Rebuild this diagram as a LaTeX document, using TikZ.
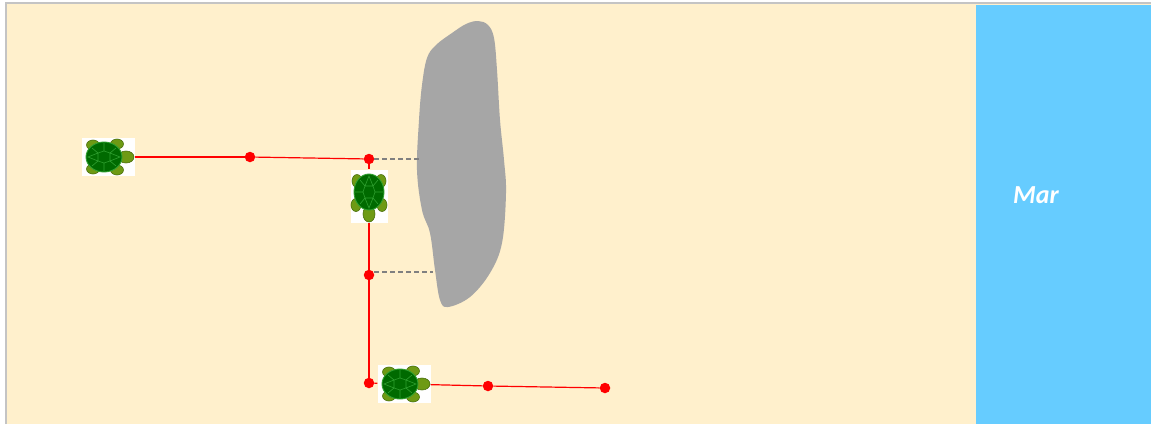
\documentclass[tikz,border=0pt]{standalone}
\usepackage{fontspec}
\setsansfont{Carlito}
\usetikzlibrary{positioning}

\definecolor{sand}{HTML}{FFF0CC}
\definecolor{sea}{HTML}{66CCFF}
\definecolor{rock}{HTML}{A6A6A6}
\definecolor{frame}{HTML}{C4C4C4}
\definecolor{shell}{HTML}{006A00}
\definecolor{plate}{HTML}{30A030}
\definecolor{limb}{HTML}{6E9A14}
\definecolor{limbedge}{HTML}{4A6E0C}

% a small turtle, head pointing along +x
\tikzset{
  turtle/.pic={
    \foreach \lx/\ly in {-15/-12,-15/12,9/-13,9/13}
      \draw[limbedge, fill=limb, line width=0.6pt]
        (\lx,\ly) ellipse [x radius=6.5, y radius=5];
    \draw[limbedge, fill=limb, line width=0.6pt] (18,0) ellipse [x radius=8, y radius=6];
    \draw[plate, fill=shell, line width=0.9pt] (-4,0) ellipse [x radius=18, y radius=15];
    % shell plates
    \draw[plate, line width=0.6pt]
      (-10,-4) -- (-4,-6) -- (2,-4) -- (2,4) -- (-4,6) -- (-10,4) -- cycle
      (-10,-4) -- (-16,-9) (2,-4) -- (8,-9) (-4,-6) -- (-4,-14)
      (-10,4) -- (-16,9) (2,4) -- (8,9) (-4,6) -- (-4,14)
      (-10,-4) -- (-20,0) -- (-10,4) (2,-4) -- (12,0) -- (2,4);
  }
}

\begin{document}
\begin{tikzpicture}[
  x=1pt,
  y=-1pt,
  turtle box/.style={
    fill=white,
    inner sep=0pt,
    minimum width=53pt,
    minimum height=38pt
  },
  dot/.style={
    circle,
    fill=red,
    inner sep=0pt,
    minimum size=10.5pt
  },
  trail/.style={red, line width=1.2pt},
  gap/.style={gray, line width=1.1pt, dash pattern=on 5pt off 3pt}
]
\useasboundingbox (0,0) rectangle (1151,424);

% beach, sea and frame
\fill[white] (0,0) rectangle (1151,424);
\fill[sand] (6,3) rectangle (1151,424);
\fill[sea] (976,5) rectangle (1151,424);
\draw[frame, line width=2pt] (5.5,424) -- (5.5,2.5) -- (1151,2.5);
\node[font=\sffamily\bfseries\itshape\fontsize{26}{26}\selectfont, text=white] (sealabel) at (1036,195) {Mar};

% rock in the middle of the beach
\fill[rock] plot[smooth cycle, tension=0.6] coordinates {
  (478,21) (488,25) (494,38) (497,70) (500,120) (504,160) (506,193) (502,243)
  (490,273) (470,297) (448,307) (440,300) (435,270) (430,233)
  (422,210) (417,170) (419,120) (422,85) (427,58) (436,45) (452,33) (466,24)};
\coordinate (rockA) at (420,158);
\coordinate (rockB) at (433,272);

% turtles
\node[turtle box] (t1) at (108,157) {};
\node[turtle box, minimum width=37pt, minimum height=53pt] (t2) at (369,196) {};
\node[turtle box] (t3) at (404,384) {};

% path points
\node[dot] (d1) at (250,157) {};
\node[dot] (d2) at (369,159) {};
\node[dot] (d3) at (369,275) {};
\node[dot] (d4) at (369,383) {};
\node[dot] (d5) at (488,386) {};
\node[dot] (d6) at (605,388) {};

\draw[gap] (d2) -- (d2 -| rockA);
\draw[gap] (d3.east |- rockB) -- (rockB);

\draw[trail] (t1) -- (d1);
\draw[trail] (d1) -- (d2);
\draw[trail] (d2) -- (t2);
\draw[trail] (t2) -- (d3);
\draw[trail] (d3) -- (d4);
\draw[trail] (d4) -- (t3);
\draw[trail] (t3) -- (d5);
\draw[trail] (d5) -- (d6);

\pic at (t1) {turtle};
\pic[rotate=-90] at (t2) {turtle};
\pic at (t3) {turtle};
\end{tikzpicture}
\end{document}
